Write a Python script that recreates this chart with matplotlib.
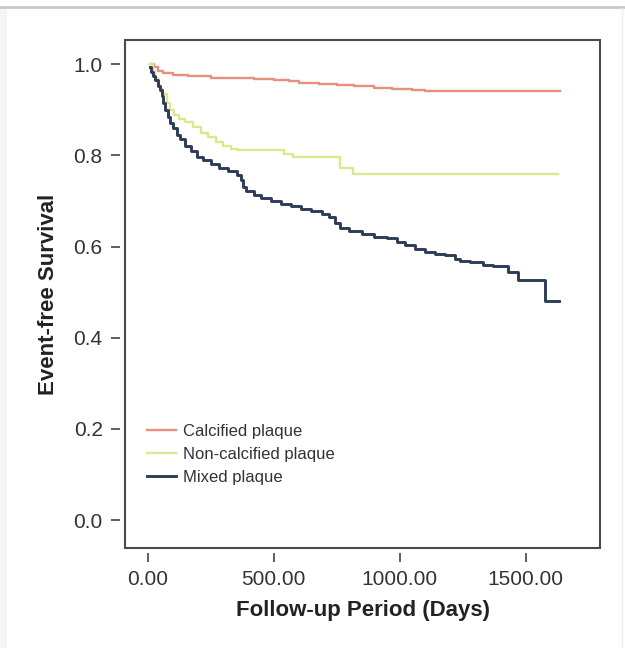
import matplotlib
matplotlib.use("Agg")
import matplotlib.pyplot as plt
from matplotlib.patches import Rectangle
from matplotlib.lines import Line2D

plt.rcParams['font.family'] = ['Liberation Sans', 'DejaVu Sans']

# Kaplan-Meier curves (days, event-free survival)
calc_t = [10, 15, 25, 40, 60, 100, 160, 250, 330, 420, 500, 560, 600, 680, 750, 820, 900, 970, 1050, 1100, 1635]
calc_s = [1.0, 1.0, 0.993, 0.985, 0.980, 0.977, 0.973, 0.970, 0.969, 0.968, 0.966, 0.962, 0.958, 0.956,
          0.954, 0.951, 0.948, 0.945, 0.943, 0.942, 0.942]

noncalc_t = [10, 20, 30, 40, 50, 60, 75, 90, 105, 125, 150, 180, 210, 240, 270, 300, 330, 360, 540, 575,
             762, 813, 1627]
noncalc_s = [1.0, 0.985, 0.97, 0.955, 0.945, 0.935, 0.915, 0.90, 0.888, 0.88, 0.873, 0.862, 0.85, 0.84,
             0.83, 0.82, 0.815, 0.811, 0.803, 0.796, 0.772, 0.759, 0.759]

mixed_t = [10, 15, 22, 30, 40, 48, 55, 62, 70, 80, 90, 100, 115, 130, 150, 170, 195, 220, 250, 285, 320,
           355, 370, 380, 392, 420, 450, 490, 530, 570, 610, 650, 690, 720, 745, 765, 800, 850, 900, 950,
           990, 1020, 1060, 1100, 1140, 1180, 1220, 1240, 1280, 1330, 1370, 1430, 1470, 1575, 1631]
mixed_s = [0.993, 0.982, 0.975, 0.965, 0.952, 0.943, 0.93, 0.915, 0.90, 0.885, 0.87, 0.86, 0.845, 0.835,
           0.82, 0.81, 0.797, 0.789, 0.78, 0.772, 0.765, 0.758, 0.745, 0.73, 0.722, 0.713, 0.706, 0.700,
           0.693, 0.688, 0.683, 0.678, 0.672, 0.665, 0.652, 0.640, 0.635, 0.628, 0.622, 0.618, 0.610,
           0.603, 0.595, 0.588, 0.584, 0.581, 0.572, 0.568, 0.566, 0.560, 0.557, 0.545, 0.526, 0.480, 0.480]

labels = ["Calcified plaque", "Non-calcified plaque", "Mixed plaque"]
colors = ["#e8907c", "#dfe68c", "#2f3c57"]

xticks = [0, 500, 1000, 1500]
xtick_labels = ["0.00", "500.00", "1000.00", "1500.00"]
yticks = [0.0, 0.2, 0.4, 0.6, 0.8, 1.0]

fig = plt.figure(figsize=(6.25, 6.48), dpi=100)
ax = fig.add_axes([0.2, 0.1543, 0.76, 0.784])

ax.plot(calc_t, calc_s, drawstyle='steps-post', color=colors[0], lw=1.7, label=labels[0])
ax.plot(noncalc_t, noncalc_s, drawstyle='steps-post', color=colors[1], lw=1.7, label=labels[1])
ax.plot(mixed_t, mixed_s, drawstyle='steps-post', color=colors[2], lw=2.1, label=labels[2])

ax.set_xlim(-90, 1795)
ax.set_ylim(-0.061, 1.053)
ax.set_xticks(xticks)
ax.set_xticklabels(xtick_labels)
ax.set_yticks(yticks)
ax.set_yticklabels(["%.1f" % v for v in yticks])

# box drawn separately so ticks can sit a little off the frame
for side in ['top', 'right']:
    ax.spines[side].set_visible(False)
for side in ['left', 'bottom']:
    ax.spines[side].set_position(('outward', 3.6))
    ax.spines[side].set_color('none')
ax.add_patch(Rectangle((0, 0), 1, 1, transform=ax.transAxes, fill=False,
                       edgecolor='#4a4a4a', lw=1.5, clip_on=False, zorder=5))

ax.tick_params(length=6.5, width=1.1, color='#333333', labelsize=15, labelcolor='#333333', pad=6)

ax.set_xlabel("Follow-up Period (Days)", fontsize=16, fontweight='bold', color='#222222', labelpad=8)
ax.set_ylabel("Event-free Survival", fontsize=16, fontweight='bold', color='#222222', labelpad=10)

ax.legend(loc='upper left', bbox_to_anchor=(0.046, 0.244), frameon=False, fontsize=12,
          handlelength=1.75, handletextpad=0.4, labelspacing=0.47, borderpad=0, borderaxespad=0,
          labelcolor='#333333')

# screenshot-like frame around the figure
fig.add_artist(Line2D([0, 1], [1 - 7 / 648, 1 - 7 / 648], color='#c8c8c8', lw=2))
fig.add_artist(Rectangle((0, 0), 7 / 625, 1 - 8 / 648, color='#f5f5f5', lw=0))
fig.add_artist(Line2D([622 / 625, 622 / 625], [0, 1 - 8 / 648], color='#ececec', lw=1))

fig.savefig("out.png", dpi=100)
